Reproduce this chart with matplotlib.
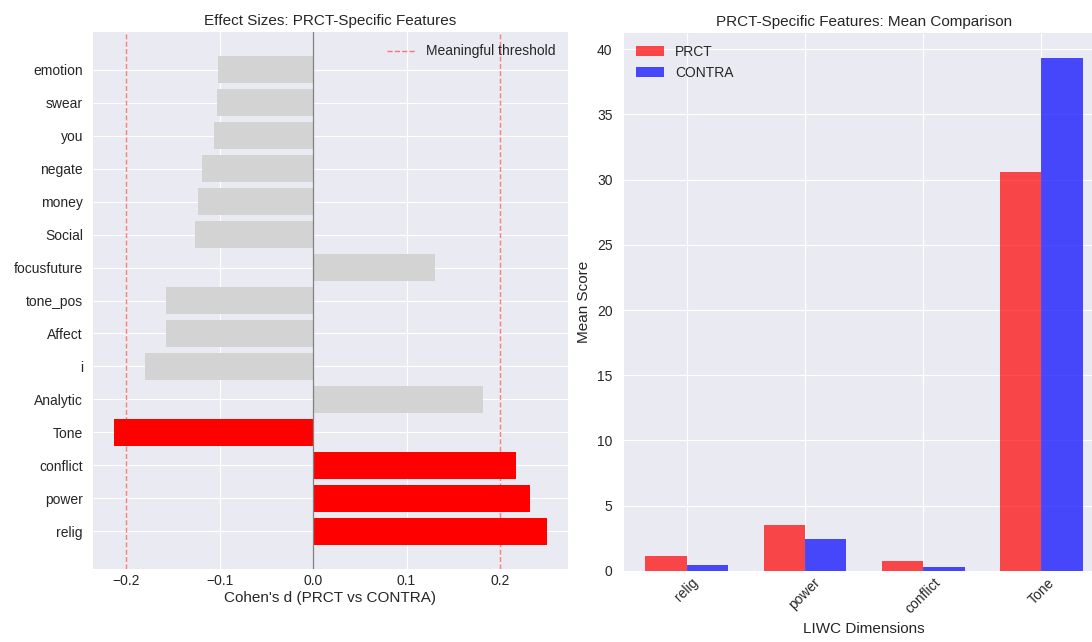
import matplotlib
matplotlib.use('Agg')
import matplotlib.pyplot as plt
import numpy as np

plt.style.use('seaborn-v0_8-darkgrid')
plt.rcParams['font.family'] = ['Liberation Sans', 'DejaVu Sans']

# effect sizes (bottom -> top)
features = ['relig', 'power', 'conflict', 'Tone', 'Analytic', 'i', 'Affect',
            'tone_pos', 'focusfuture', 'Social', 'money', 'negate', 'you',
            'swear', 'emotion']
cohens_d = [0.250, 0.232, 0.217, -0.213, 0.182, -0.180, -0.158,
            -0.158, 0.131, -0.127, -0.123, -0.119, -0.106, -0.103, -0.102]
threshold = 0.2

# mean comparison
dims = ['relig', 'power', 'conflict', 'Tone']
prct_means = [1.14, 3.53, 0.74, 30.62]
contra_means = [0.44, 2.47, 0.28, 39.31]

fig = plt.figure(figsize=(10.92, 6.42), dpi=100)
ax1 = fig.add_axes([92.7 / 1092, 73 / 642, 475.5 / 1092, 537 / 642])
ax2 = fig.add_axes([623.6 / 1092, 71.3 / 642, 481 / 1092, 538 / 642])

colors = ['red' if abs(d) >= threshold else 'lightgray' for d in cohens_d]
y = np.arange(len(features))
ax1.barh(y, cohens_d, color=colors)
ax1.axvline(0, color='gray', linewidth=0.9)
ax1.axvline(threshold, color='red', linestyle='--', alpha=0.5, linewidth=1,
            label='Meaningful threshold')
ax1.axvline(-threshold, color='red', linestyle='--', alpha=0.5, linewidth=1)
ax1.set_yticks(y)
ax1.set_yticklabels(features, fontsize=10)
ax1.tick_params(axis='x', labelsize=10)
ax1.tick_params(axis='y', pad=7, colors='#262626')
ax1.set_xlabel("Cohen's d (PRCT vs CONTRA)", fontsize=11, labelpad=2)
ax1.set_title('Effect Sizes: PRCT-Specific Features', fontsize=11, pad=5)
ax1.legend(loc='upper right', fontsize=10)

x = np.arange(len(dims))
w = 0.35
ax2.bar(x - w / 2, prct_means, w, color='red', alpha=0.7, label='PRCT')
ax2.bar(x + w / 2, contra_means, w, color='blue', alpha=0.7, label='CONTRA')
ax2.set_xticks(x)
ax2.set_xticklabels(dims, rotation=45, fontsize=10)
ax2.tick_params(axis='y', labelsize=10, pad=8)
ax2.set_xlabel('LIWC Dimensions', fontsize=11)
ax2.set_ylabel('Mean Score', fontsize=11)
ax2.set_title('PRCT-Specific Features: Mean Comparison', fontsize=11, pad=5)
ax2.legend(loc='upper left', fontsize=10)

plt.savefig('out.png', dpi=100)
plt.close()
